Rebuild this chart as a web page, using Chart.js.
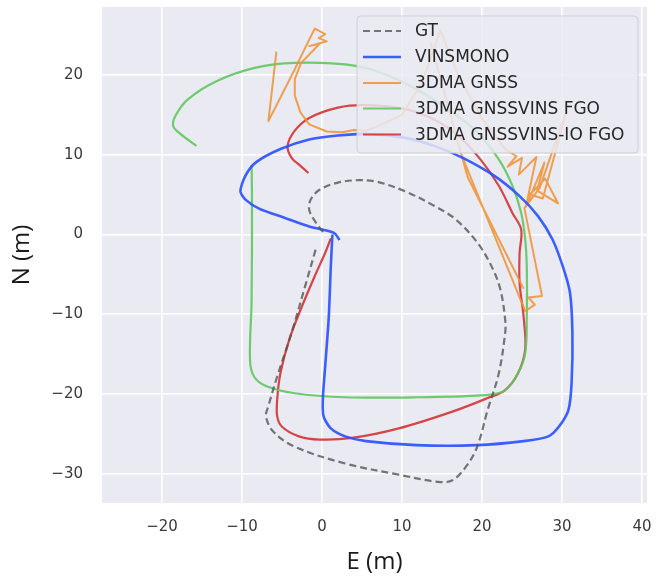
<!DOCTYPE html>
<html>
<head>
<meta charset="utf-8">
<script src="https://cdn.jsdelivr.net/npm/chart.js@4/dist/chart.umd.min.js"></script>
<style>
  html, body { margin: 0; padding: 0; background: #ffffff; }
  #wrap { width: 661px; height: 581px; }
</style>
</head>
<body>
<div id="wrap"><canvas id="c" width="661" height="581"></canvas></div>
<script>
// ---- data (metres, East / North) ----
const seriesLabels = ['GT', 'VINSMONO', '3DMA GNSS', '3DMA GNSSVINS FGO', '3DMA GNSSVINS-IO FGO'];

const gtE = [-0.8, -2.0, -3.8, -5.6, -6.7, -7.0, -6.1, -3.4, 2.9, 9.6, 14.5, 16.3, 18.0, 19.4, 20.7, 22.1, 22.9, 22.9, 22.3, 21.2, 19.4, 16.7, 14.0, 10.4, 6.9, 4.6, 2.0, -0.3, -1.4, -1.6, -0.9, 0.2];
const gtN = [-1.9, -6.1, -12.3, -17.8, -21.5, -22.8, -24.7, -26.6, -28.7, -30.1, -31.0, -30.8, -29.1, -26.6, -22.0, -17.4, -12.3, -10.7, -6.9, -4.0, -1.0, 1.9, 3.6, 5.4, 6.6, 6.8, 6.5, 5.6, 4.4, 3.1, 1.7, 0.2];

const vinsE = [1.3, 1.1, 0.85, 0.4, 0.1, 0.2, 1.1, 2.9, 5.5, 11.8, 19.4, 25.2, 28.3, 29.6, 30.8, 31.2, 31.3, 31.0, 30.1, 28.8, 27.0, 24.7, 21.6, 17.6, 14.0, 10.4, 5.5, 2.0, -1.6, -5.2, -8.3, -9.6, -10.2, -9.6, -7.8, -4.7, -1.6, 1.5, 2.2];
const vinsN = [0.0, -4.0, -10.3, -16.5, -20.7, -22.8, -24.3, -25.3, -25.9, -26.4, -26.4, -25.9, -25.3, -24.1, -22.0, -18.6, -12.3, -7.3, -4.0, -0.6, 2.3, 4.8, 7.3, 9.6, 11.1, 12.1, 12.6, 12.4, 11.9, 10.7, 9.0, 7.3, 5.4, 4.4, 3.2, 2.1, 1.0, 0.2, -0.7];

const gnssE = [-5.7, -6.7, -3.4, -2.0, -0.9, 0.4, -0.4, 0.6, -1.6, -0.3, -2.6, -3.4, -3.4, -2.7, -1.6, 0.6, 2.5, 4.0, 5.5, 7.5, 10.0, 12.5, 14.8, 17.0, 20.0, 23.0, 24.3, 23.2, 25.0, 24.6, 26.8, 25.5, 27.8, 26.9, 29.5, 27.9, 26.0, 27.6, 30.6, 27.2, 25.3, 27.5, 25.8, 26.6, 25.4, 17.5, 14.0, 13.6, 18.2, 25.2];
const gnssN = [22.9, 14.2, 20.7, 23.6, 25.8, 25.1, 24.6, 24.2, 23.6, 23.9, 21.5, 19.5, 17.4, 15.3, 13.8, 12.9, 12.8, 13.1, 13.0, 13.8, 15.0, 19.0, 25.6, 20.0, 14.5, 10.6, 9.8, 8.5, 9.6, 7.5, 9.7, 3.5, 9.0, 5.5, 3.9, 7.0, 5.0, 4.5, 15.6, 5.8, 3.3, -7.7, -7.9, -8.8, -9.6, 9.8, 22.4, 24.0, 7.2, -6.8];

const fgoE = [-8.8, -8.75, -8.8, -9.0, -8.5, -7.0, -3.4, 2.9, 11.8, 20.7, 22.9, 24.5, 25.4, 25.6, 25.6, 25.4, 24.9, 23.8, 22.1, 19.4, 16.3, 11.8, 7.3, 2.9, -3.4, -8.3, -13.2, -16.8, -18.3, -18.6, -17.7, -15.7];
const fgoN = [8.7, 4.4, -8.2, -15.7, -17.8, -19.0, -19.9, -20.4, -20.4, -20.1, -19.5, -17.4, -14.9, -10.3, -4.0, -0.6, 2.7, 6.1, 9.4, 12.8, 15.3, 18.2, 20.3, 21.3, 21.5, 20.9, 19.2, 16.9, 14.9, 13.6, 12.6, 11.1];

const ioE = [1.1, 0.4, -0.9, -2.5, -4.1, -5.2, -5.6, -5.6, -5.0, -2.9, -0.3, 3.75, 9.6, 16.3, 20.7, 22.9, 24.5, 25.4, 25.2, 24.7, 24.7, 24.9, 23.8, 22.1, 19.8, 17.1, 14.0, 10.4, 5.5, 2.0, -1.6, -3.4, -4.3, -3.8, -2.7, -1.7];
const ioN = [-0.5, -2.3, -5.2, -9.0, -13.2, -17.4, -20.7, -22.8, -24.1, -25.3, -25.7, -25.5, -24.3, -22.2, -20.5, -19.5, -17.4, -14.4, -10.3, -6.1, -2.3, 0.6, 2.7, 6.1, 9.4, 12.3, 14.4, 15.7, 16.2, 15.9, 14.6, 13.0, 11.1, 9.6, 8.6, 7.7];

const xTicks = [-20, -10, 0, 10, 20, 30, 40];
const yTicks = [-30, -20, -10, 0, 10, 20];

// ---- build ----
function pts(E, N) { return E.map((e, i) => ({ x: e, y: N[i] })); }

const styles = [
  { color: 'rgba(85,85,85,0.8)', dash: [7, 4], width: 2.2, tension: 0.35 },
  { color: 'rgba(40,80,255,0.9)', dash: [], width: 2.6, tension: 0.25 },
  { color: 'rgba(240,145,50,0.85)', dash: [], width: 2.0, tension: 0 },
  { color: 'rgba(95,200,95,0.9)', dash: [], width: 2.2, tension: 0.35 },
  { color: 'rgba(212,50,50,0.9)', dash: [], width: 2.2, tension: 0.35 }
];
const series = [pts(gtE, gtN), pts(vinsE, vinsN), pts(gnssE, gnssN), pts(fgoE, fgoN), pts(ioE, ioN)];

const datasets = series.map((d, i) => ({
  label: seriesLabels[i],
  data: d,
  showLine: true,
  borderColor: styles[i].color,
  backgroundColor: styles[i].color,
  borderDash: styles[i].dash,
  borderWidth: styles[i].width,
  tension: styles[i].tension,
  pointRadius: 0,
  pointHoverRadius: 0,
  fill: false,
  borderCapStyle: 'butt',
  borderJoinStyle: 'round'
}));

const bgPlugin = {
  id: 'bg',
  beforeDraw(chart) {
    const { ctx, chartArea: a } = chart;
    ctx.save();
    ctx.fillStyle = '#EAEAF2';
    ctx.fillRect(a.left, a.top, a.right - a.left, a.bottom - a.top);
    ctx.restore();
  }
};

const legendPlugin = {
  id: 'customLegend',
  afterDatasetsDraw(chart) {
    const ctx = chart.ctx;
    const x0 = 357, y0 = 16, w = 281, h = 137, r = 4;
    ctx.save();
    ctx.beginPath();
    ctx.moveTo(x0 + r, y0);
    ctx.arcTo(x0 + w, y0, x0 + w, y0 + h, r);
    ctx.arcTo(x0 + w, y0 + h, x0, y0 + h, r);
    ctx.arcTo(x0, y0 + h, x0, y0, r);
    ctx.arcTo(x0, y0, x0 + w, y0, r);
    ctx.closePath();
    ctx.fillStyle = 'rgba(234,234,242,0.84)';
    ctx.fill();
    ctx.lineWidth = 1;
    ctx.strokeStyle = 'rgba(205,205,212,0.9)';
    ctx.stroke();
    const rowY = [31, 57, 83, 108.5, 134.5];
    chart.data.datasets.forEach((ds, i) => {
      const y = rowY[i];
      ctx.beginPath();
      ctx.setLineDash(ds.borderDash || []);
      ctx.lineWidth = ds.borderWidth;
      ctx.strokeStyle = ds.borderColor;
      ctx.moveTo(363, y);
      ctx.lineTo(401, y);
      ctx.stroke();
      ctx.setLineDash([]);
      ctx.fillStyle = '#262626';
      ctx.font = '17px "DejaVu Sans"';
      ctx.textBaseline = 'middle';
      ctx.textAlign = 'left';
      ctx.fillText(ds.label, 415, y + 1);
    });
    ctx.restore();
  }
};

const fmt = v => (v < 0 ? '\u2212' + Math.abs(v) : String(v));
function zeroPad(s) { s.paddingTop = 0; s.paddingBottom = 0; s.paddingLeft = 0; s.paddingRight = 0; }

new Chart(document.getElementById('c'), {
  type: 'scatter',
  data: { datasets },
  options: {
    responsive: false,
    animation: false,
    events: [],
    layout: { padding: { top: 7, right: 14, left: 0, bottom: 0 } },
    plugins: { legend: { display: false }, tooltip: { enabled: false } },
    scales: {
      x: {
        type: 'linear',
        min: -27.5, max: 40.625,
        afterFit(s) { s.height = 78; zeroPad(s); },
        afterBuildTicks(s) { s.ticks = xTicks.map(v => ({ value: v })); },
        grid: { color: '#ffffff', lineWidth: 1.6, drawTicks: false },
        border: { display: false },
        ticks: {
          padding: 15, color: '#3a3a3a',
          font: { family: '"DejaVu Sans"', size: 15 },
          callback: fmt, maxRotation: 0
        },
        title: {
          display: true, text: 'E (m)', color: '#1a1a1a',
          font: { family: '"Open Sans"', size: 24, weight: '500' },
          padding: { top: 0, bottom: 4 }
        }
      },
      y: {
        type: 'linear',
        min: -33.65, max: 28.5,
        afterFit(s) { s.width = 102; zeroPad(s); },
        afterBuildTicks(s) { s.ticks = yTicks.map(v => ({ value: v })); },
        grid: { color: '#ffffff', lineWidth: 1.6, drawTicks: false },
        border: { display: false },
        ticks: {
          padding: 19, color: '#3a3a3a',
          font: { family: '"DejaVu Sans"', size: 15 },
          callback: fmt
        },
        title: {
          display: true, text: 'N (m)', color: '#1a1a1a',
          font: { family: '"Open Sans"', size: 24, weight: '500' },
          padding: { top: 8, bottom: 0 }
        }
      }
    }
  },
  plugins: [bgPlugin, legendPlugin]
});
</script>
</body>
</html>
